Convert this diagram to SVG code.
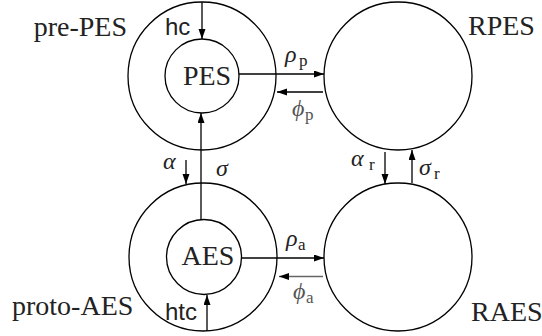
<svg xmlns="http://www.w3.org/2000/svg" width="542" height="336" viewBox="0 0 542 336">
<defs>
<marker id="ah" markerUnits="userSpaceOnUse" markerWidth="11" markerHeight="8" refX="10" refY="3.5" orient="auto">
<path d="M0,0 L10,3.5 L0,7 z" fill="#000"/>
</marker>
<style>
.c{fill:none;stroke:#000;stroke-width:1.3}
.e{stroke:#000;stroke-width:1.3;fill:none}
.g{stroke:#666}
.t{font-family:"Liberation Serif","Times New Roman",serif;font-size:28px;fill:#222}
.s{font-family:"Liberation Sans",Arial,sans-serif;font-size:24px;fill:#222}
.m{font-family:"Liberation Serif","Times New Roman",serif;font-size:24px;font-style:italic;fill:#222}
.b{font-family:"Liberation Serif","Times New Roman",serif;font-size:17px;fill:#222}
.gr{fill:#555}
</style>
</defs>
<rect width="542" height="336" fill="#fff"/>
<g id="pre-PES">
<circle class="c" cx="202" cy="76" r="74"/>
<text class="t" x="127" y="36" text-anchor="end">pre-PES</text>
</g>
<g id="PES">
<circle class="c" cx="202" cy="76" r="37"/>
<text class="t" x="207" y="85" text-anchor="middle">PES</text>
</g>
<g id="RPES">
<circle class="c" cx="398" cy="76" r="74"/>
<text class="t" x="468" y="35">RPES</text>
</g>
<g id="proto-AES">
<circle class="c" cx="203" cy="257" r="74"/>
<text class="t" x="12" y="315">proto-AES</text>
</g>
<g id="AES">
<circle class="c" cx="204" cy="257" r="37.5"/>
<text class="t" x="208" y="265" text-anchor="middle">AES</text>
</g>
<g id="RAES">
<circle class="c" cx="398" cy="257" r="74"/>
<text class="t" x="471" y="321">RAES</text>
</g>
<g id="connectors">
<line class="e" x1="202" y1="2" x2="202" y2="39" marker-end="url(#ah)"/>
<text class="s" x="165" y="35">hc</text>
<line class="e" x1="239" y1="74" x2="324" y2="74" marker-end="url(#ah)"/>
<text class="m" x="285" y="62">ρ</text><text class="b" x="299" y="66">p</text>
<line class="e" x1="323" y1="92" x2="277" y2="92" marker-end="url(#ah)"/>
<text class="m gr" x="292" y="116">ϕ</text><text class="b gr" x="305" y="120">p</text>
<line class="e" x1="186" y1="160" x2="186" y2="184" marker-end="url(#ah)"/>
<text class="m" x="163" y="169">α</text>
<line class="e" x1="201" y1="220" x2="201" y2="113" marker-end="url(#ah)"/>
<text class="m" x="216" y="176">σ</text>
<line class="e" x1="385" y1="152" x2="385" y2="184" marker-end="url(#ah)"/>
<text class="m" x="351" y="166">α</text><text class="b" x="369" y="170">r</text>
<line class="e" x1="412" y1="183" x2="412" y2="150" marker-end="url(#ah)"/>
<text class="m" x="419" y="175">σ</text><text class="b" x="434" y="179">r</text>
<line class="e" x1="242" y1="258" x2="324" y2="258" marker-end="url(#ah)"/>
<text class="m" x="286" y="246">ρ</text><text class="b" x="298" y="250">a</text>
<line class="e g" x1="323" y1="276.5" x2="279" y2="276.5" marker-end="url(#ah)"/>
<text class="m gr" x="293" y="299">ϕ</text><text class="b gr" x="306" y="303">a</text>
<line class="e" x1="207" y1="331" x2="207" y2="295" marker-end="url(#ah)"/>
<text class="s" x="165" y="320">htc</text>
</g>
</svg>
